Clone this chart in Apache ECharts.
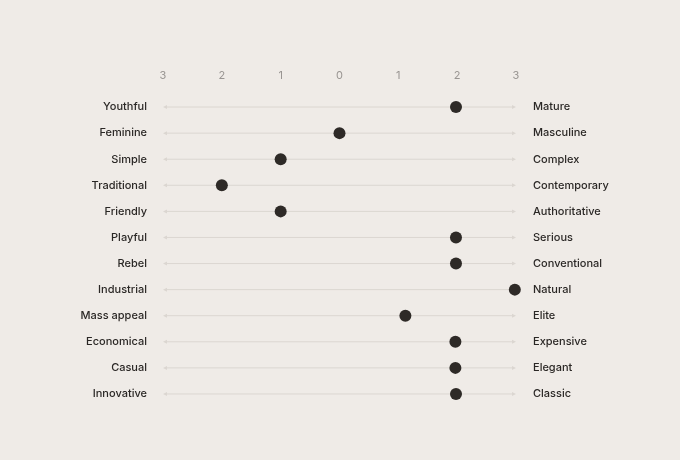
<!DOCTYPE html>
<html>
<head>
<meta charset="utf-8">
<script src="https://cdn.jsdelivr.net/npm/echarts@6/dist/echarts.min.js"></script>
<style>
  html, body { margin: 0; padding: 0; background: #efebe7; }
  #chart { width: 680px; height: 460px; }
</style>
</head>
<body>
<div id="chart"></div>
<script>
// left / right pole of each scale, top to bottom
var leftLabels = ['Youthful', 'Feminine', 'Simple', 'Traditional', 'Friendly', 'Playful',
  'Rebel', 'Industrial', 'Mass appeal', 'Economical', 'Casual', 'Innovative'];
var rightLabels = ['Mature', 'Masculine', 'Complex', 'Contemporary', 'Authoritative', 'Serious',
  'Conventional', 'Natural', 'Elite', 'Expensive', 'Elegant', 'Classic'];
// position on the -3..3 scale
var scores = [1.98, 0, -1, -2, -1, 1.98, 1.98, 2.98, 1.12, 1.97, 1.97, 1.98];
var scaleMin = -3;
var scaleMax = 3;

var dom = document.getElementById('chart');
var myChart = echarts.init(dom, null, { renderer: 'canvas' });

var lineColor = '#dbd6d1';
var textColor = '#2a2725';

var option = {
  backgroundColor: '#efebe7',
  animation: false,
  textStyle: { fontFamily: 'Inter, "Noto Sans", sans-serif' },
  grid: { left: 163, right: 164, top: 94, bottom: 53 },
  xAxis: {
    type: 'value',
    position: 'top',
    min: scaleMin,
    max: scaleMax,
    interval: 1,
    axisLine: { show: false },
    axisTick: { show: false },
    splitLine: { show: false },
    axisLabel: {
      color: '#999592',
      fontSize: 11,
      margin: 13,
      formatter: function (v) { return String(Math.abs(v)); }
    }
  },
  yAxis: [
    {
      type: 'category',
      inverse: true,
      data: leftLabels,
      axisLine: { show: false },
      axisTick: { show: false },
      axisLabel: { color: textColor, fontSize: 11, fontWeight: 500, margin: 16 }
    },
    {
      type: 'category',
      inverse: true,
      position: 'right',
      data: rightLabels,
      axisLine: { show: false },
      axisTick: { show: false },
      axisLabel: { color: textColor, fontSize: 11, fontWeight: 500, margin: 17 }
    }
  ],
  series: [
    {
      type: 'custom',
      silent: true,
      data: leftLabels.map(function (name, i) { return [i]; }),
      renderItem: function (params, api) {
        var idx = api.value(0);
        var a = api.coord([scaleMin, idx]);
        var b = api.coord([scaleMax, idx]);
        return {
          type: 'group',
          children: [
            {
              type: 'line',
              shape: { x1: a[0] + 2, y1: a[1], x2: b[0] - 2, y2: b[1] },
              style: { stroke: lineColor, lineWidth: 1 }
            },
            {
              type: 'polygon',
              shape: { points: [[a[0], a[1]], [a[0] + 4, a[1] - 2], [a[0] + 4, a[1] + 2]] },
              style: { fill: lineColor }
            },
            {
              type: 'polygon',
              shape: { points: [[b[0], b[1]], [b[0] - 4, b[1] - 2], [b[0] - 4, b[1] + 2]] },
              style: { fill: lineColor }
            }
          ]
        };
      },
      z: 1
    },
    {
      type: 'scatter',
      symbol: 'circle',
      symbolSize: 12,
      itemStyle: { color: '#2e2a27', opacity: 1 },
      data: scores.map(function (v, i) { return [v, i]; }),
      z: 3
    }
  ]
};

myChart.setOption(option);
window.addEventListener('resize', myChart.resize);
</script>
</body>
</html>
